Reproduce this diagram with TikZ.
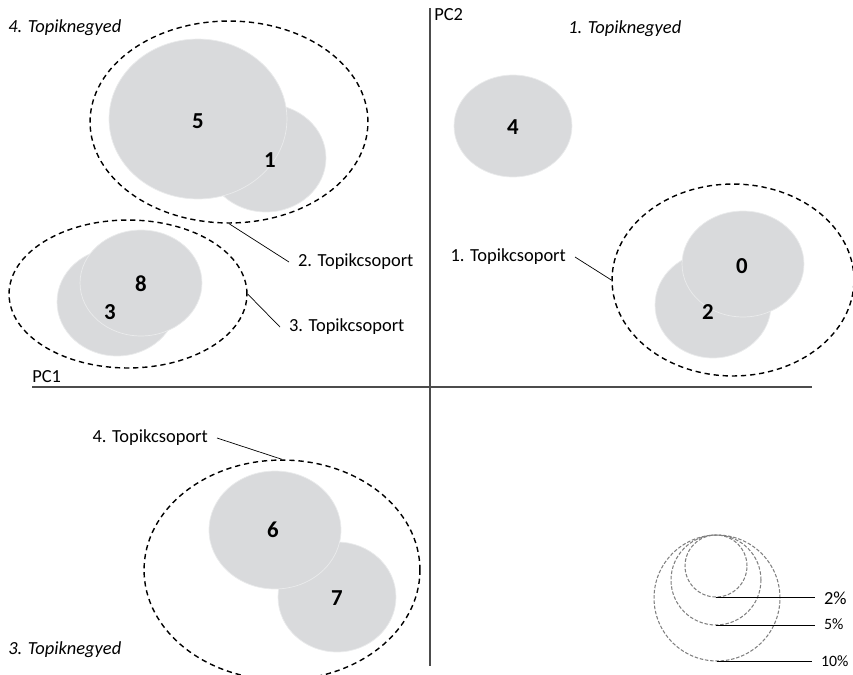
\documentclass[tikz,border=0pt]{standalone}
\usepackage{fontspec}
\setmainfont{Carlito}
\usetikzlibrary{shapes.geometric}
\definecolor{blobgray}{RGB}{217,218,220}
\begin{document}
\begin{tikzpicture}[
    x=0.02cm, y=-0.02cm,
    every node/.style={font=\fontsize{10.5}{12}\selectfont},
    num/.style={font=\bfseries\fontsize{13}{15}\selectfont, inner sep=0pt},
    blob/.style 2 args={ellipse, fill=blobgray, draw=white!45!blobgray, line width=0.4pt,
        minimum width=#1*0.04cm, minimum height=#2*0.04cm, inner sep=0pt},
    group/.style 2 args={ellipse, draw=black, line width=0.8pt, dash pattern=on 3pt off 2.2pt,
        minimum width=#1*0.04cm, minimum height=#2*0.04cm, inner sep=0pt},
    legcirc/.style={circle, draw=gray, line width=0.6pt, dash pattern=on 2pt off 1pt,
        minimum size=#1*0.04cm, inner sep=0pt},
    quad/.style={font=\itshape\fontsize{10.5}{12}\selectfont, inner sep=0pt},
    grouplabel/.style={inner sep=5pt},
    leader/.style={line width=0.4pt},
    axis/.style={draw=gray!60!black, line width=0.7pt}
]
\useasboundingbox (0,0) rectangle (853,674);

% Axes
\coordinate (ax1) at (32,387);
\coordinate (ax2) at (812,387);
\coordinate (ay1) at (430,8);
\coordinate (ay2) at (430,666);
\draw[axis] (ax1) -- (ax2);
\draw[axis] (ay1) -- (ay2);
\node[anchor=west, inner sep=0pt] (pc1) at (32,377) {PC1};
\node[anchor=west, inner sep=0pt] (pc2) at (434,15) {PC2};

% Quadrants
\node[quad, anchor=west] (q4) at (8,28) {4. Topiknegyed};
\node[quad, anchor=west] (q1) at (568,29) {1. Topiknegyed};
\node[quad, anchor=west] (q3) at (8,650) {3. Topiknegyed};

% Topics
\node[blob={60}{54}] (b1) at (266,158) {};
\node[blob={89}{80}] (b5) at (198,119) {};
\node[blob={60}{54}] (b3) at (117,302) {};
\node[blob={61}{53}] (b8) at (141,283) {};
\node[blob={59}{51}] (b4) at (513,126) {};
\node[blob={58}{53}] (b2) at (713,305) {};
\node[blob={61}{53}] (b0) at (743,264) {};
\node[blob={59}{55}] (b7) at (337,597) {};
\node[blob={66}{59}] (b6) at (275,530) {};

\node[num] (n5) at (198,121) {5};
\node[num] (n1) at (270,160) {1};
\node[num] (n8) at (141,284) {8};
\node[num] (n3) at (110,312) {3};
\node[num] (n4) at (513,127) {4};
\node[num] (n0) at (742,266) {0};
\node[num] (n2) at (708,312) {2};
\node[num] (n6) at (273,530) {6};
\node[num] (n7) at (337,598) {7};

% Topic groups
\node[group={139}{101}] (g2) at (229,122) {};
\node[group={119}{74}] (g3) at (128,294) {};
\node[group={121}{96}] (g1) at (733,280) {};
\node[group={138}{110}] (g4) at (282,570) {};

\node[grouplabel, anchor=west] (lab2) at (289,262) {2. Topikcsoport};
\node[grouplabel, anchor=west] (lab3) at (280,327) {3. Topikcsoport};
\node[grouplabel, anchor=east] (lab1) at (575,257) {1. Topikcsoport};
\node[grouplabel, anchor=east] (lab4) at (217,438) {4. Topikcsoport};
\draw[leader] (g2.south) -- (lab2.west);
\draw[leader] (g3.east) -- (lab3.west);
\draw[leader] (lab1.east) -- (g1.west);
\draw[leader] (lab4.east) -- (g4.north);

% Legend
\node[legcirc=63] (leg10) at (717,598) {};
\node[legcirc=45] (leg5) at (716,580) {};
\node[legcirc=31] (leg2) at (716,566) {};
\node[anchor=west, inner sep=5pt] (legt2) at (815,598) {2\%};
\node[anchor=west, inner sep=5pt, font=\fontsize{9}{11}\selectfont] (legt5) at (815,624) {5\%};
\node[anchor=west, inner sep=5pt, font=\fontsize{9}{11}\selectfont] (legt10) at (812,661) {10\%};
\draw[leader] (leg2.south) -- (leg2.south -| legt2.west);
\draw[leader] (leg5.south) -- (leg5.south -| legt5.west);
\draw[leader] (leg10.south) -- (leg10.south -| legt10.west);
\end{tikzpicture}
\end{document}
